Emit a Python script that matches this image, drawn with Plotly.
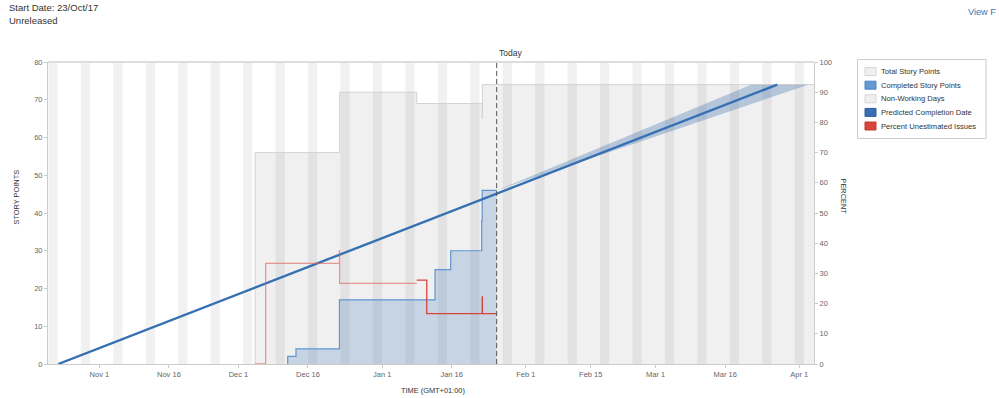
import plotly.graph_objects as go

# ---------------- data ----------------
weekend_starts = ["2017-10-21", "2017-10-28", "2017-11-04", "2017-11-11", "2017-11-18",
                  "2017-11-25", "2017-12-02", "2017-12-09", "2017-12-16", "2017-12-23",
                  "2017-12-30", "2018-01-06", "2018-01-13", "2018-01-20", "2018-01-27",
                  "2018-02-03", "2018-02-10", "2018-02-17", "2018-02-24", "2018-03-03",
                  "2018-03-10", "2018-03-17", "2018-03-24", "2018-03-31"]
weekend_ends = ["2017-10-23", "2017-10-30", "2017-11-06", "2017-11-13", "2017-11-20",
                "2017-11-27", "2017-12-04", "2017-12-11", "2017-12-18", "2017-12-25",
                "2018-01-01", "2018-01-08", "2018-01-15", "2018-01-22", "2018-01-29",
                "2018-02-05", "2018-02-12", "2018-02-19", "2018-02-26", "2018-03-05",
                "2018-03-12", "2018-03-19", "2018-03-26", "2018-04-02"]

total_times = ["2017-12-04 14:00", "2017-12-04 14:00", "2017-12-22 19:00", "2018-01-08 11:00",
               "2018-01-22 14:00", "2018-01-22 15:00", "2018-04-04 04:00"]
total_points = [0, 56, 72, 69, 65, 74, 74]

completed_times = ["2017-12-11 15:00", "2017-12-11 15:00", "2017-12-13 10:00", "2017-12-22 19:00",
                   "2018-01-12 10:00", "2018-01-15 19:00", "2018-01-22 11:30", "2018-01-22 14:00",
                   "2018-01-25 17:00"]
completed_points = [0, 2, 4, 17, 25, 30, 38, 46, 46]

unest_times_old = ["2017-12-04 14:00", "2017-12-06 21:00", "2017-12-22 19:00", "2017-12-22 20:00",
                   "2018-01-08 11:00"]
unest_pct_old = [0, 33.3, 37.5, 26.7, 26.7]
unest_times_new = ["2018-01-08 11:00", "2018-01-10 15:00", "2018-01-22 14:00", "2018-01-22 15:00",
                   "2018-01-25 17:00"]
unest_pct_new = [27.8, 16.7, 22.2, 16.7, 16.7]

predicted_times = ["2017-10-23 03:00", "2018-03-27 06:00"]
predicted_points = [0, 74]

band_times = ["2018-01-25 17:00", "2018-03-21 14:00", "2018-04-02 22:00", "2018-01-25 17:00"]
band_points = [46, 74, 74, 46]

today = "2018-01-25 17:00"

x_range = ["2017-10-20 22:00", "2018-04-04 04:00"]
tick_dates = ["2017-11-01", "2017-11-16", "2017-12-01", "2017-12-16", "2018-01-01", "2018-01-16",
              "2018-02-01", "2018-02-15", "2018-03-01", "2018-03-16", "2018-04-01"]
tick_labels = ["Nov 1", "Nov 16", "Dec 1", "Dec 16", "Jan 1", "Jan 16",
               "Feb 1", "Feb 15", "Mar 1", "Mar 16", "Apr 1"]

legend_labels = ["Total Story Points", "Completed Story Points", "Non-Working Days",
                 "Predicted Completion Date", "Percent Unestimated Issues"]
legend_fills = ["#efefef", "#6699d4", "#efefef", "#3a6eb0", "#d9453d"]
legend_lines = ["#d6d6d6", "#4a84c6", "#d6d6d6", "#2c5d9c", "#c0392b"]

# ---------------- layout geometry ----------------
W, H = 999, 398
L, R, T, B = 48, 185, 62, 34
PW, PH = W - L - R, H - T - B
FONT = "Liberation Sans, Arial, sans-serif"


def px(x):
    return (x - L) / PW


def py(y):
    return (H - B - y) / PH


fig = go.Figure()

fig.add_trace(go.Scatter(x=total_times, y=total_points, mode="lines", line_shape="hv",
                         line=dict(color="#d2d2d2", width=1), fill="tozeroy",
                         fillcolor="rgba(0,0,0,0.058)", hoverinfo="skip"))
fig.add_trace(go.Scatter(x=completed_times, y=completed_points, mode="lines", line_shape="hv",
                         line=dict(color="#5e95d2", width=1.2), fill="tozeroy",
                         fillcolor="rgba(70,125,190,0.24)", hoverinfo="skip"))
fig.add_trace(go.Scatter(x=band_times, y=band_points, mode="lines", fill="toself",
                         line=dict(width=0), fillcolor="rgba(60,110,170,0.32)", hoverinfo="skip"))
fig.add_trace(go.Scatter(x=predicted_times, y=predicted_points, mode="lines",
                         line=dict(color="#3570b3", width=2.4), hoverinfo="skip"))
fig.add_trace(go.Scatter(x=unest_times_old, y=unest_pct_old, mode="lines", line_shape="hv",
                         line=dict(color="rgba(228,95,88,0.62)", width=1.3), yaxis="y2",
                         hoverinfo="skip"))
fig.add_trace(go.Scatter(x=unest_times_new, y=unest_pct_new, mode="lines", line_shape="hv",
                         line=dict(color="#d8453f", width=1.3), yaxis="y2", hoverinfo="skip"))

shapes = []
for s, e in zip(weekend_starts, weekend_ends):
    shapes.append(dict(type="rect", xref="x", yref="paper", x0=s, x1=e, y0=0, y1=1,
                       fillcolor="rgba(0,0,0,0.055)", line=dict(width=0), layer="below"))
shapes.append(dict(type="line", xref="x", yref="paper", x0=today, x1=today, y0=0, y1=1,
                   line=dict(color="#555555", width=1, dash="5px,3px")))
shapes.append(dict(type="line", xref="paper", yref="paper", x0=0, x1=1, y0=1, y1=1,
                   line=dict(color="#dddddd", width=2)))
# legend box
shapes.append(dict(type="rect", xref="paper", yref="paper", x0=px(857.5), x1=px(986),
                   y0=py(138.5), y1=py(59.5), line=dict(color="#cccccc", width=1),
                   fillcolor="white"))

annotations = []
for i, (lab, fc, lc) in enumerate(zip(legend_labels, legend_fills, legend_lines)):
    cy = 71.6 + i * 13.6
    shapes.append(dict(type="rect", xref="paper", yref="paper", x0=px(865), x1=px(876),
                       y0=py(cy + 4), y1=py(cy - 4), fillcolor=fc, line=dict(color=lc, width=1)))
    annotations.append(dict(text=lab, xref="paper", yref="paper", x=px(879), y=py(cy),
                            xanchor="left", yanchor="middle", showarrow=False,
                            font=dict(size=7.6, color="#333333", family=FONT)))

annotations += [
    dict(text="Start Date: 23/Oct/17", xref="paper", yref="paper", x=px(6.5), y=py(8),
         xanchor="left", yanchor="middle", showarrow=False,
         font=dict(size=9.5, color="#333333", family=FONT)),
    dict(text="Unreleased", xref="paper", yref="paper", x=px(6.5), y=py(20.5),
         xanchor="left", yanchor="middle", showarrow=False,
         font=dict(size=9.5, color="#333333", family=FONT)),
    dict(text="View F", xref="paper", yref="paper", x=px(998), y=py(12),
         xanchor="right", yanchor="middle", showarrow=False,
         font=dict(size=9.2, color="#3b73af", family=FONT)),
    dict(text="Today", xref="x", yref="paper", x=today, y=py(53), xanchor="left",
         yanchor="middle", showarrow=False, font=dict(size=8.5, color="#333333", family=FONT)),
    dict(text="STORY POINTS", xref="paper", yref="paper", x=px(16), y=py(197.5),
         xanchor="center", yanchor="middle", textangle=-90, showarrow=False,
         font=dict(size=7.4, color="#333333", family=FONT)),
    dict(text="PERCENT", xref="paper", yref="paper", x=px(843), y=py(196.5),
         xanchor="center", yanchor="middle", textangle=90, showarrow=False,
         font=dict(size=7.4, color="#333333", family=FONT)),
    dict(text="TIME (GMT+01:00)", xref="paper", yref="paper", x=px(433), y=py(390),
         xanchor="center", yanchor="middle", showarrow=False,
         font=dict(size=7.4, color="#333333", family=FONT)),
]

fig.update_layout(
    width=W, height=H, margin=dict(l=L, r=R, t=T, b=B, pad=0),
    paper_bgcolor="white", plot_bgcolor="white", showlegend=False,
    font=dict(family=FONT, size=7.5, color="#666666"),
    shapes=shapes, annotations=annotations,
    xaxis=dict(type="date", range=x_range, tickvals=tick_dates, ticktext=tick_labels,
               showgrid=False, zeroline=False, showline=True, linecolor="#cccccc",
               linewidth=1, ticks="outside", ticklen=3, tickcolor="#cccccc",
               tickfont=dict(size=7.5, color="#666666", family=FONT)),
    yaxis=dict(range=[0, 80], dtick=10, showgrid=False, zeroline=False, showline=True,
               linecolor="#cccccc", linewidth=1, ticks="outside", ticklen=3,
               tickcolor="#cccccc", tickfont=dict(size=7.5, color="#666666", family=FONT)),
    yaxis2=dict(range=[0, 100], dtick=10, overlaying="y", side="right", showgrid=False,
                zeroline=False, showline=True, linecolor="#cccccc", linewidth=1,
                ticks="outside", ticklen=3, tickcolor="#cccccc",
                tickfont=dict(size=7.5, color="#666666", family=FONT)),
)

fig.write_html("out.html", config={"displayModeBar": False},
               post_script="document.body.style.margin='0';document.body.style.overflow='hidden';")
